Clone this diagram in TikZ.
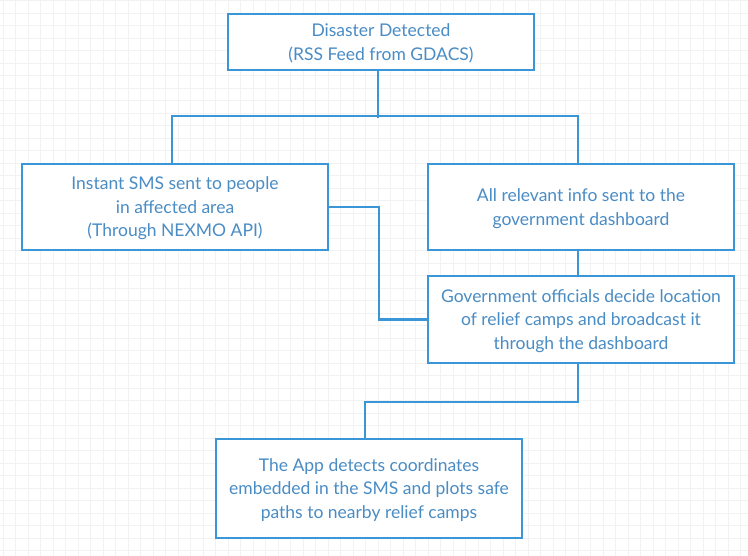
\documentclass[tikz,border=0pt]{standalone}
\usepackage{fontspec}
\setmainfont{Lato}
\definecolor{linec}{HTML}{3A96D6}
\definecolor{textc}{HTML}{4A8CC4}
\definecolor{gridc}{HTML}{F2F2F2}
\tikzset{
  box/.style={draw=linec, line width=2.3pt, fill=white, text=textc, align=center,
    minimum width=306pt, inner sep=0pt, font=\fontsize{17.5}{23.5}\selectfont,
    text depth=0pt},
  conn/.style={draw=linec, line width=2.3pt},
}
\begin{document}
\begin{tikzpicture}[x=1pt,y=-1pt]
\useasboundingbox (0,0) rectangle (748,556);
\fill[white] (0,0) rectangle (748,556);
\foreach \i in {0,...,60} {
  \draw[gridc, line width=0.8pt] ({3.2+12.5*\i},0) -- ({3.2+12.5*\i},556);
}
\foreach \i in {0,...,45} {
  \draw[gridc, line width=0.8pt] (0,{0.8+12.5*\i}) -- (748,{0.8+12.5*\i});
}
\node[box, minimum height=56pt] (top) at (381,42) {Disaster Detected\\(RSS Feed from GDACS)};
\node[box, minimum height=86pt] (left) at (175,207) {Instant SMS sent to people\\in affected area\\(Through NEXMO API)};
\node[box, minimum height=86pt] (right) at (581,207) {All relevant info sent to the\\government dashboard};
\node[box, minimum height=87pt] (gov) at (581,319.5) {Government officials decide location\\of relief camps and broadcast it\\through the dashboard};
\node[box, minimum height=99pt] (app) at (369,488.5) {The App detects coordinates\\embedded in the SMS and plots safe\\paths to nearby relief camps};
\draw[conn] ([xshift=-3pt]top.south) -- ++(0,47);
\draw[conn] ([xshift=-3pt]left.north) -- ++(0,-47) -| ([xshift=-3pt]right.north);
\draw[conn] ([xshift=-3pt]right.south) -- ([xshift=-3pt]gov.north);
\draw[conn] (left.east) -- ++(50,0) |- (gov.west);
\draw[conn] ([xshift=-3pt]gov.south) -- ++(0,38) -| ([xshift=-4pt]app.north);
\end{tikzpicture}
\end{document}
